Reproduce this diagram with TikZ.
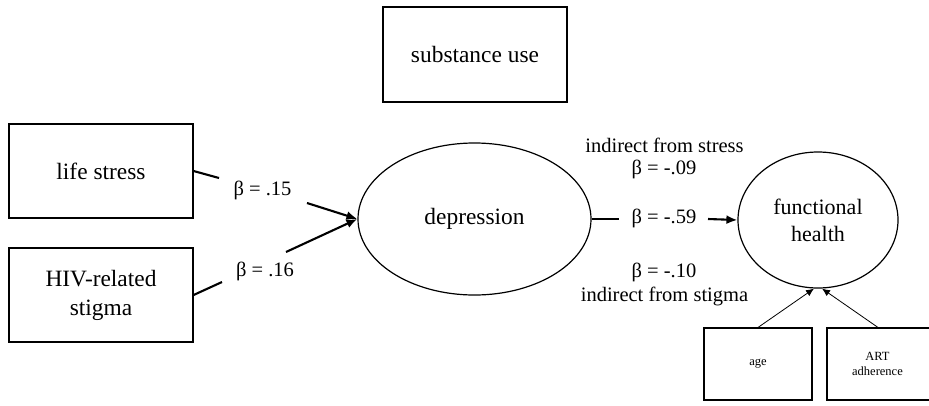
\documentclass[tikz,border=0pt]{standalone}
\usepackage{fontspec}
\setmainfont{Liberation Serif}
\usetikzlibrary{shapes.geometric,arrows.meta}
\begin{document}
\begin{tikzpicture}[x=1pt,y=-1pt,
  box/.style={draw,line width=1.2pt,rectangle,inner sep=0pt,align=center,font=\fontsize{23.4}{29}\selectfont},
  smallbox/.style={draw,line width=1.1pt,rectangle,inner sep=0pt,align=center,font=\fontsize{12.5}{15.5}\selectfont},
  oval/.style={draw,line width=1.2pt,ellipse,inner sep=0pt,align=center},
  lbl/.style={inner sep=0pt,align=center,font=\fontsize{20.5}{25}\selectfont},
  path/.style={line width=2.1pt},
  patharrow/.style={line width=2.1pt,-{Latex[length=11pt,width=9pt]}},
  thinarrow/.style={line width=0.8pt,-{Latex[length=8pt,width=7pt]}}
]
\useasboundingbox (0,0) rectangle (929,405);
\clip (0,0) rectangle (929,405);

\node[box,minimum width=184,minimum height=95] (sub) at (475,54.5) {substance use};
\node[box,minimum width=184,minimum height=94] (ls) at (101,171) {life stress};
\node[box,minimum width=184,minimum height=94] (hiv) at (101,295) {HIV-related\\stigma};
\node[oval,minimum width=233,minimum height=152,font=\fontsize{23.4}{29}\selectfont] (dep) at (474.5,219) {depression};
\node[oval,minimum width=160,minimum height=136,font=\fontsize{22}{27}\selectfont] (fh) at (818,220) {functional\\health};
\node[smallbox,minimum width=108,minimum height=72] (age) at (758,364) {age};
\node[smallbox,minimum width=108,minimum height=72] (art) at (881,364) {};
\node[inner sep=0pt,align=center,font=\fontsize{12.5}{15.5}\selectfont] (artt) at (877.5,364) {ART\\adherence};

% labels
\node[lbl] (b15) at (262.5,190) {β = .15};
\node[lbl] (b16) at (265,271) {β = .16};
\node[lbl] (b59) at (664,218) {β = -.59};
\node[lbl] (ind1) at (664.5,145) {indirect from stress};
\node[lbl] (b09) at (664,169) {β = -.09};
\node[lbl] (b10) at (664,272) {β = -.10};
\node[lbl] (ind2) at (664.5,296) {indirect from stigma};

% gap coordinates
\coordinate (g1) at (219,178);
\coordinate (g2) at (307,203);
\coordinate (g3) at (222,282);
\coordinate (g4) at (286,252);
\coordinate (g5) at (619,219);
\coordinate (g6) at (708,219);

\draw[path] (ls.east) -- (g1);
\draw[patharrow] (g2) -- (dep.west);
\draw[path] (hiv.east) -- (g3);
\draw[patharrow] (g4) -- (dep.west);
\draw[path] (dep.east) -- (g5);
\draw[patharrow] (g6) -- (fh.west);
\draw[thinarrow] (age.north) -- ([xshift=-4pt]fh.south);
\draw[thinarrow] ([xshift=-3pt]art.north) -- ([xshift=4pt]fh.south);
\end{tikzpicture}
\end{document}
